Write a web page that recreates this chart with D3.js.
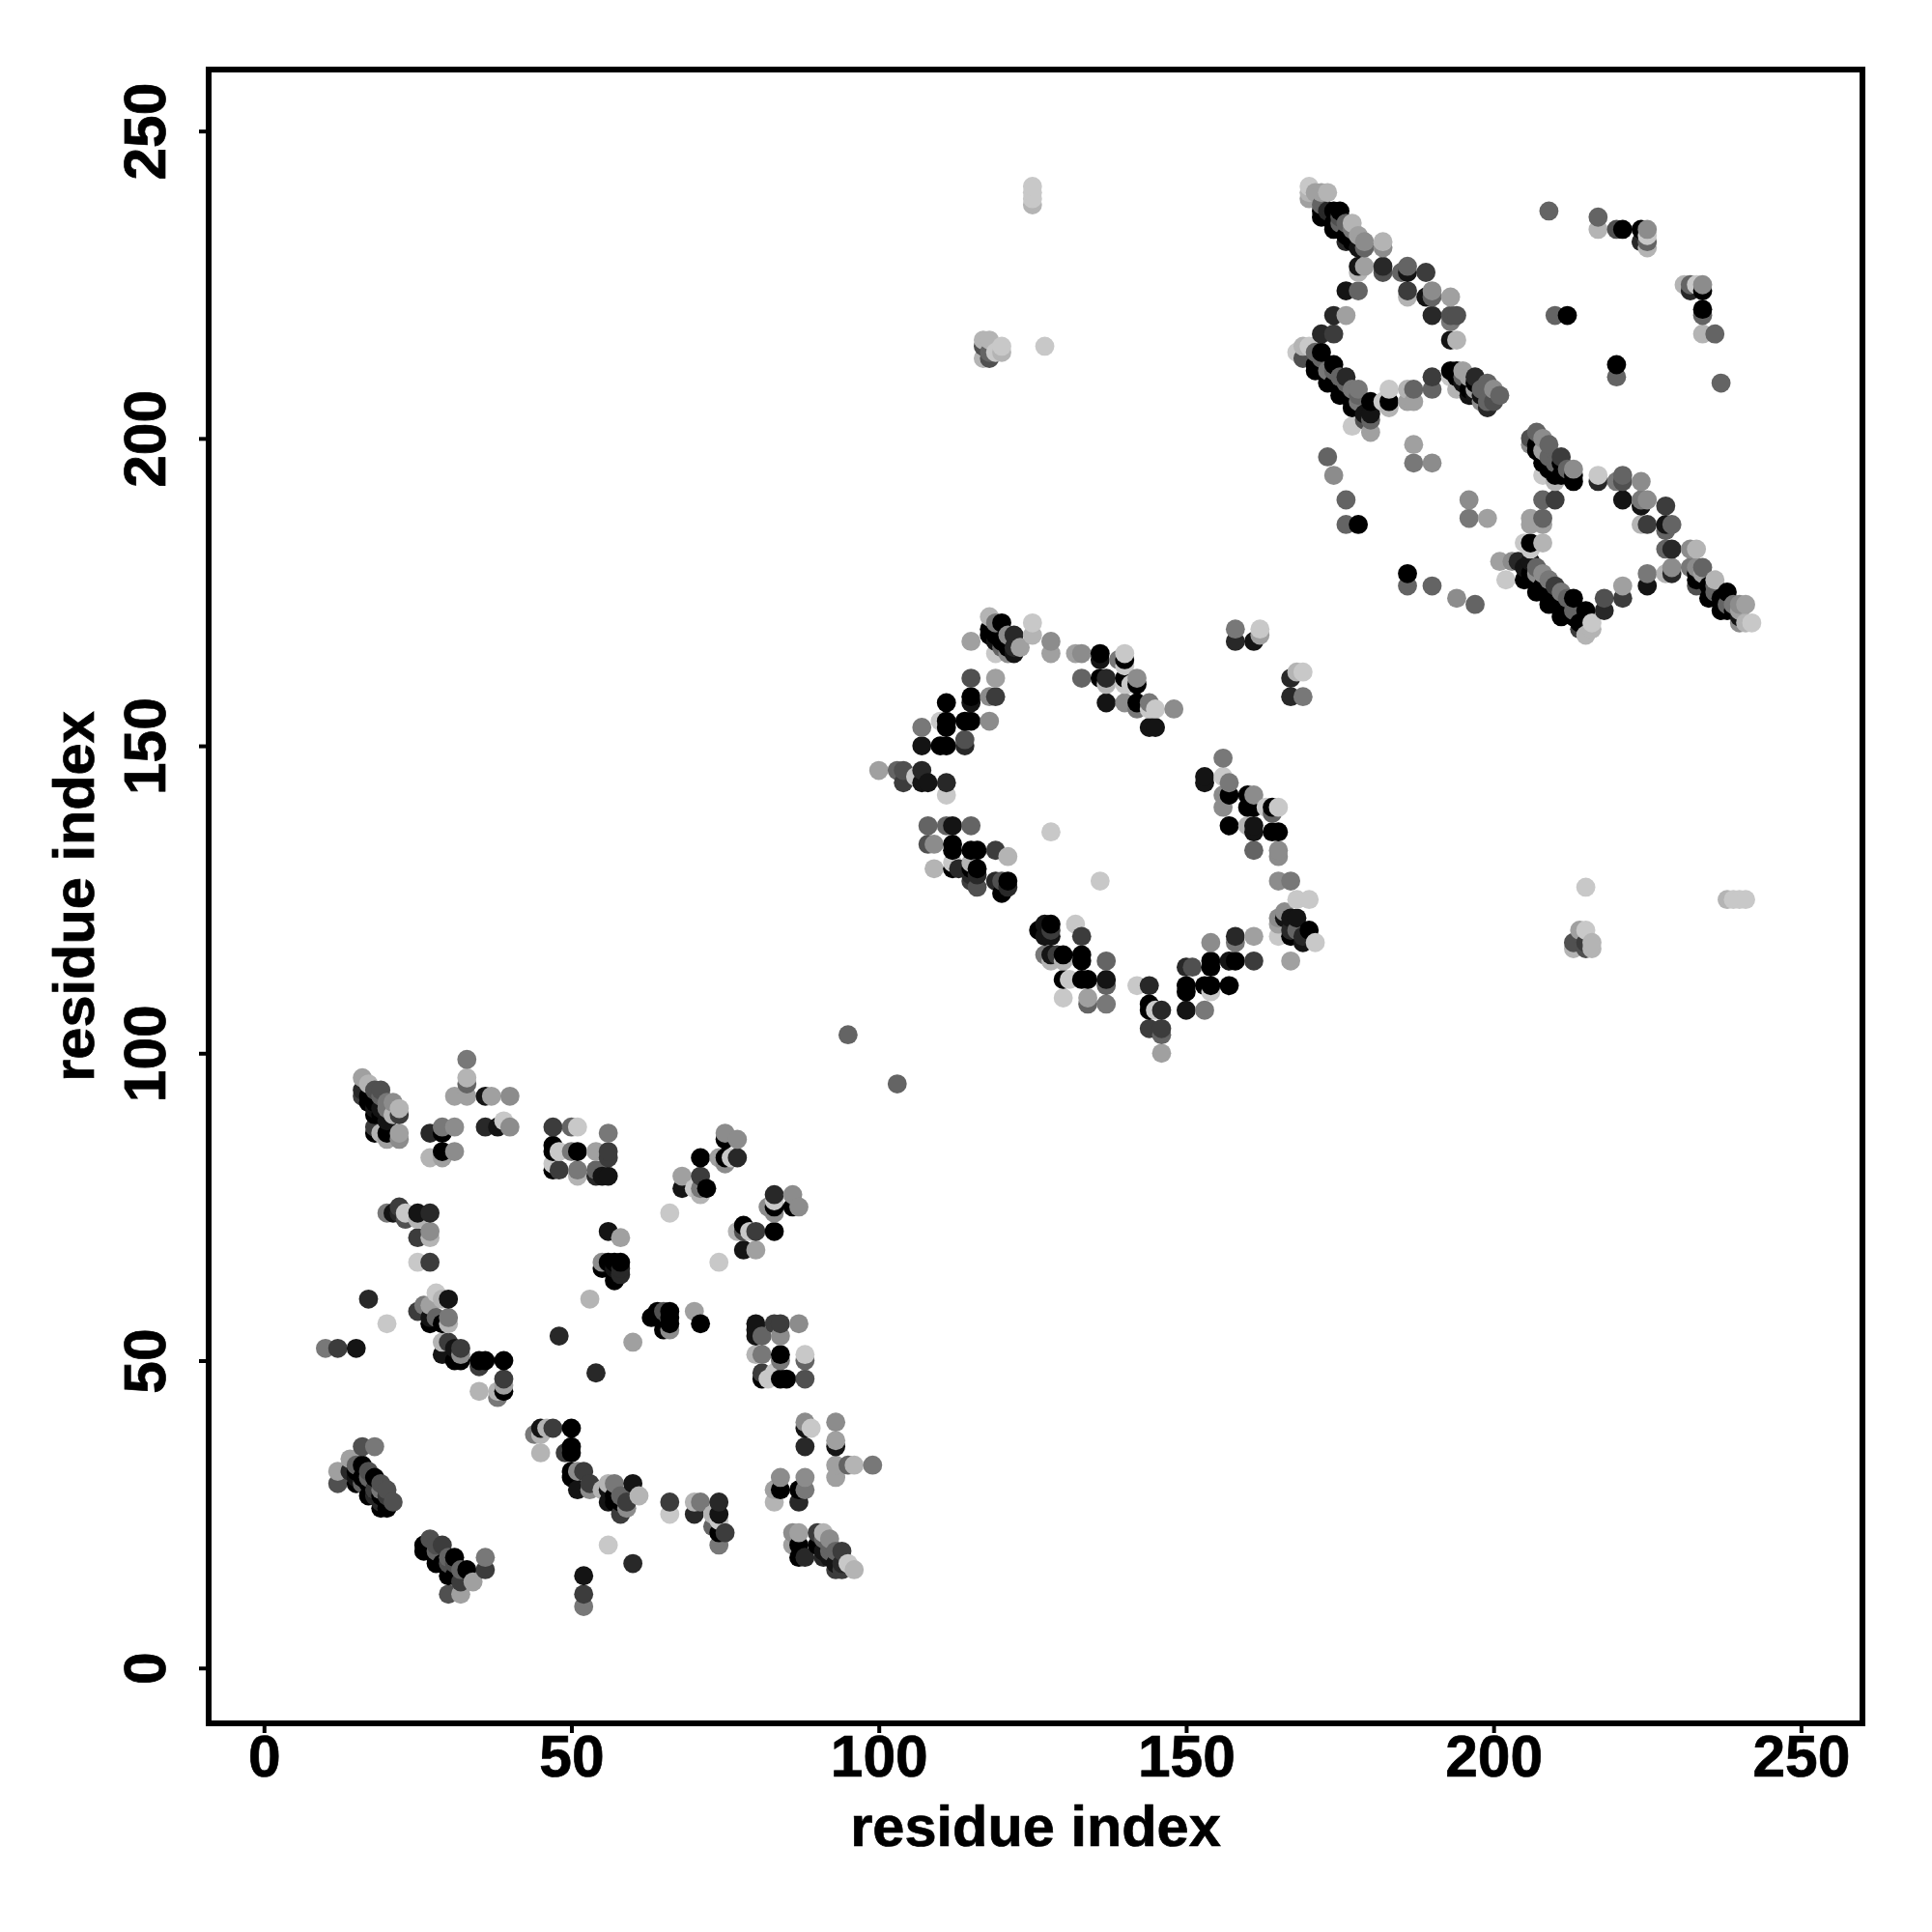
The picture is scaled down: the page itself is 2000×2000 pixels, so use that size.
<!DOCTYPE html>
<html><head><meta charset="utf-8">
<script src="https://cdn.jsdelivr.net/npm/d3@7"></script>
<style>html,body{margin:0;background:#fff}svg{display:block}text{font-family:"Liberation Sans",Arial,sans-serif;font-weight:700;fill:#000}</style>
</head><body><svg id="c" width="2000" height="2000"></svg>
<script>
// contacts: [residue i, residue j, strength 0..10]
const strands=[[171,212,10],[172,211,10],[173,210,10],[174,209,10],[175,208,10],[176,207,10],[177,206,10],[178,205,10],[179,204,9],[172,213,5],[174,211,5],[176,209,5],[178,207,5],
[172,237,10],[173,236,10],[174,235,10],[175,234,10],[176,233,10],[177,232,10],[178,231,9],[175,236,6],[176,235,5],[177,234,4],
[195,209,9],[196,207,9],[197,207,9],[198,207,9],[199,205,8],[195,210,5],[198,208,5],
[207,198,10],[208,197,10],[209,196,10],[210,195,10],[211,194,10],[212,194,10],[209,197,5],[210,196,5],[212,195,5],
[206,178,10],[207,177,10],[208,176,10],[209,175,10],[210,174,10],[211,173,10],[212,172,10],[213,171,10],[214,170,10],[207,179,5],[209,177,4],[211,175,4],[212,174,5],
[233,178,10],[234,177,10],[235,176,10],[236,175,10],[237,174,10],[238,173,10],[239,172,10],[240,171,9],[234,179,5],[236,176,5],[239,173,4],
[15,32,10],[16,31,10],[17,30,10],[18,29,10],[19,28,10],[20,27,10],[17,32,6],[19,30,6],[20,28,7],
[27,19,10],[28,18,10],[29,17,10],[30,16,10],[31,15,10],[28,20,6],[30,18,5],[31,17,6],
[91,19,9],[92,18,9],[93,17,9],[94,17,8],[91,21,5],[92,20,5],[93,19,5],[56,29,9],[57,27,10],[58,27,10],
[118,168,10],[119,168,10],[120,167,10],[121,166,10],[122,165,9],[17,92,10],[18,90,10],[19,90,10],[20,89,9],[19,93,5],[20,91,4]];
const blockA1=[[16,96,2],[17,95,1],[16,93,7],[16,94,8],[18,94,6],[19,94,6],[18,91,9],[19,91,9],[20,92,4],[21,92,3],[22,91,1],[22,90,7],[21,90,1],[18,88,7],[18,87,10],[19,87,1],[20,87,10],[20,86,2],[22,87,2],[22,86,3],[17,93,10],[18,92,10],
[27,87,8],[29,87,10],[29,88,4],[31,88,3],[29,84,10],[31,84,3],[27,83,1],[29,83,2],[33,99,4],[33,96,1],[33,95,5],[31,93,2],[33,93,2],[36,93,9],[37,93,2],[40,93,3],[36,88,8],[39,89,0],[38,88,9],[40,88,3]];
const blockA2=[[47,88,7],[50,88,5],[51,88,0],[56,87,4],[47,85,10],[47,84,10],[48,84,0],[50,84,4],[51,84,10],[54,84,2],[56,84,7],[56,83,7],[47,82,0],[47,81,10],[48,81,7],[51,80,1],[51,81,4],[54,81,5],[54,80,8],[55,80,9],[56,80,9],
[20,74,4],[22,75,7],[21,74,9],[23,73,6],[22,74,8],[23,74,0],[25,73,1],[25,74,9],[27,74,8],[27,71,3],[27,70,1],[25,70,7],[25,66,0],[27,66,7],
[17,60,8],[20,56,0],[10,52,4],[12,52,7],[15,52,9],[95,103,5],[103,95,5]];
const blockA3=[[28,61,0],[29,60,1],[30,60,9],[25,58,7],[26,59,4],[27,59,2],[27,57,9],[27,56,10],[28,57,5],[29,56,10],[30,56,1],[30,57,4],[29,53,1],[30,53,7],[29,51,9],[31,52,9],[31,50,10],[32,50,10],[32,51,3],[32,52,7],
[35,50,10],[36,50,10],[35,49,7],[39,50,10],[39,47,7],[39,45,10],[39,46,2],[38,44,4],[38,45,1],[35,45,1],[48,54,8],[54,48,8],[53,60,1],[60,53,2],
[56,71,9],[58,70,2],[55,66,3],[55,65,10],[56,66,10],[57,66,10],[58,66,10],[58,65,8],[57,63,10],[58,64,8],[57,65,9]];
const blockA4=[[71,83,10],[75,87,3],[77,86,3],[75,86,10],[74,83,2],[75,82,3],[75,83,10],[76,83,0],[77,83,8],[68,80,2],[68,78,9],[71,80,7],[71,78,4],[71,77,1],[70,78,0],[72,78,10],[66,74,0],[74,66,0],
[83,77,8],[83,76,0],[86,77,3],[87,75,3],[86,75,10],[82,75,3],[83,75,10],[83,74,3],[78,72,10],[83,71,10],[80,71,7],[79,71,0],[77,71,1],[78,71,6],[78,68,9],[80,68,2],
[80,56,9],[80,55,9],[80,54,9],[83,56,7],[84,56,7],[87,56,3],[81,54,5],[84,54,3],[80,51,1],[81,51,4],[84,51,10],[84,50,4],[88,50,5],[88,51,0],[81,48,7],[81,47,10],[82,47,0],[83,48,0],[84,47,10],[85,47,10],[88,47,6],
[63,57,10],[64,58,10],[65,58,6],[66,58,10],[66,57,10],[65,55,10],[66,55,3],[66,56,10],[70,58,2],[71,56,10]];
const blockA5=[[16,36,6],[18,36,4],[14,34,2],[12,32,2],[12,30,6],[15,33,5],[16,33,10],[14,32,8],[15,30,10],[15,31,9],[16,30,5],[17,31,5],[18,31,10],[17,28,10],[18,29,7],[19,29,4],[20,29,6],[19,26,10],[20,26,10],[21,27,6],[19,27,8],[18,28,8],
[27,21,6],[26,20,10],[26,19,10],[29,20,7],[28,19,5],[28,17,10],[31,18,10],[30,17,6],[30,15,10],[32,16,5],[33,16,10],[32,14,7],[36,18,4],[36,16,7],[34,14,2],[30,12,6],[32,12,2],
[44,38,4],[45,38,1],[45,39,9],[46,39,1],[47,39,7],[50,39,10],[45,35,1],[49,35,7],[50,36,10],[50,35,10],[50,32,10],[50,31,10],[51,32,3],[52,32,7],[51,29,9],[53,29,3],[53,30,7],
[56,30,1],[57,30,4],[55,29,1],[56,27,9],[58,25,7],[59,26,3],[59,27,7],[60,30,9],[61,28,1],[58,28,5],[57,28,10],[56,20,0],[60,17,8],[52,15,9],[52,12,7],[52,10,4]];
const blockA6=[[66,27,7],[66,25,0],[70,27,1],[71,27,4],[70,25,8],[74,27,8],[74,25,9],[73,25,1],[73,23,5],[74,22,10],[75,22,7],[74,20,4],[74,24,0],
[88,40,3],[89,39,0],[88,39,9],[88,36,8],[93,40,3],[93,37,2],[93,36,9],[93,33,2],[95,33,5],[96,33,1],[99,33,4],[93,31,2],
[84,31,3],[84,29,10],[83,29,2],[83,27,1],[87,29,10],[88,31,3],[88,29,4],[87,27,8],
[86,22,3],[87,22,2],[86,20,2],[87,20,10],[87,18,10],[88,18,8],[90,22,7],[91,22,1],[92,21,3],[90,20,10],[91,18,8],[94,19,7],[93,16,7],[95,17,0],[96,16,1],[92,19,5],[93,17,9],[94,16,7]];
const blockB1=[[118,171,1],[118,169,10],[119,170,4],[120,170,10],[119,167,9],[121,168,3],[122,168,8],[122,166,8],[121,165,3],[123,166,2],[119,165,0],[115,167,2],[120,166,5],[125,170,0],[125,168,1],[128,167,3],[128,165,2],[132,165,2],[133,165,3],
[136,165,10],[136,164,9],[139,164,4],[140,164,10],[140,165,0],[140,163,0],[133,161,5],[136,161,10],[137,161,8],[137,160,1],[140,161,10],[140,160,0],[142,160,10],[142,161,3],[141,160,0],[137,157,9],[140,157,3],[142,157,10],[142,156,4],[144,157,4],[144,156,0],[145,156,0],[148,156,3],[144,153,9],[145,153,9],
[158,169,4],[158,167,8],[161,167,9],[162,168,2],[162,169,0],[167,161,8],[168,162,1],[169,162,0],[167,158,8],[169,158,4]];
const blockB2=[[115,161,6],[119,161,2],[115,158,10],[115,157,9],[118,158,3],[119,158,7],[111,157,10],[110,154,0],[111,154,10],[111,153,10],[114,154,10],[115,154,10],[118,154,3],[107,153,4],[107,150,9],[110,150,10],[111,150,10],[114,150,8],[114,151,6],
[100,146,2],[103,146,5],[104,146,6],[104,144,7],[107,146,8],[107,144,9],[108,144,9],[111,144,8],[111,142,0],[106,145,0],
[108,137,5],[111,137,5],[112,137,9],[115,137,5],[108,134,6],[109,134,3],[112,134,10],[112,133,10],[115,133,10],[116,133,10],[119,133,7],[121,132,1],[109,130,1],[112,130,10],[113,130,8],[112,131,0],[115,130,10],[115,129,8],[115,128,7],[116,130,10],[116,129,8],[116,127,6],[115,131,1],
[119,128,8],[120,126,10],[120,128,6],[121,128,10],[121,127,8],[128,136,0],[136,128,0]];
const blockB3=[[156,148,4],[153,145,9],[153,144,9],[156,145,0],[157,144,4],[156,142,3],[157,142,10],[156,140,3],[160,142,10],[160,140,10],[161,142,3],[161,140,10],[163,140,0],[164,140,10],[164,139,5],[165,140,0],
[157,137,10],[160,137,1],[161,137,9],[161,136,9],[164,136,10],[165,136,10],[161,133,5],[165,133,3],[165,132,3],[165,128,3],[167,128,4],[168,125,0],[170,125,0],
[165,122,3],[166,123,3],[165,121,2],[166,122,9],[167,122,9],[168,122,9],[167,119,10],[167,120,8],[168,120,5],[165,119,0],[170,120,10],[169,118,9],[171,118,0],[169,119,8],[167,115,2],
[161,119,2],[158,119,8],[158,118,4],[154,118,3],[154,115,10],[154,114,10],[157,115,9],[158,115,10],[161,115,7],[150,114,8],[151,114,6],[150,111,10],[150,110,10],[153,111,10],[154,111,10],[154,110,0],[157,111,10],[150,107,9],[153,107,4]];
const blockB4=[[142,111,0],[144,111,8],[144,108,10],[144,107,10],[145,107,0],[146,107,8],[144,104,7],[146,104,7],[146,103,5],[146,100,2],
[126,120,10],[127,121,9],[128,121,10],[128,120,7],[128,119,9],[127,119,9],[132,121,0],[133,119,7],[127,116,4],[128,116,9],[129,116,7],[130,116,10],[128,115,1],[130,115,1],[133,116,10],[133,115,10],[137,115,5],
[130,112,10],[131,112,0],[133,112,10],[134,112,10],[137,112,9],[137,111,5],[130,109,0],[134,108,5],[134,109,2],[137,108,4],
[125,241,0],[125,240,0],[125,239,0],[125,238,1],[117,216,1],[118,216,1],[117,215,6],[117,213,1],[118,213,6],[118,214,5],[119,214,0],[120,215,0],[120,214,1],[127,215,0],
[215,127,0],[214,120,2],[215,120,0],[213,118,6],[213,117,1],[215,118,7],[215,117,6],[216,118,1],[216,117,1],[238,125,1],[239,125,0],[240,125,0],[241,125,0]];
const blockC1=[[170,241,0],[170,240,1],[170,239,2],[171,240,2],[173,240,1],[172,240,2],[172,236,10],[172,238,5],[174,234,10],[173,237,8],[175,237,10],[174,237,10],[176,232,8],[175,235,5],[177,235,1],[178,233,2],[179,232,3],[179,231,5],[182,232,1],[182,231,3],
[178,228,9],[179,228,2],[178,227,1],[182,228,8],[182,227,6],[185,227,5],[186,228,5],[186,227,9],[189,227,7],[176,224,9],[178,224,5],[186,224,7],[186,223,1],[189,223,9],[190,223,5],[190,224,3],[193,223,2],
[174,220,8],[176,220,2],[190,220,8],[193,219,4],[193,220,6],[194,220,6],[172,217,8],[174,217,7],[193,216,9],[194,216,1]];
const blockC2=[[168,214,0],[169,215,1],[170,215,0],[169,213,6],[171,214,5],[172,214,10],[171,211,10],[174,212,10],[173,209,10],[175,207,10],[177,205,10],[173,211,4],[176,210,8],[175,210,5],[177,208,4],[178,208,4],[178,206,4],[179,203,6],[180,206,10],[180,204,9],[180,203,5],[177,202,0],[180,201,2],
[183,208,0],[182,206,0],[183,206,10],[183,205,1],[186,208,1],[187,208,5],[186,206,2],[187,206,2],[190,210,7],[190,208,5],
[193,211,10],[194,211,10],[195,211,2],[193,210,0],[194,210,10],[194,208,1],[196,210,2],[197,210,8],[196,208,10],[197,208,2],[199,209,5],[200,208,3],[198,206,3],[199,206,5],[200,206,6],[201,207,5],[197,209,10]];
const blockC3=[[209,237,5],[217,236,5],[217,234,1],[220,234,6],[221,234,10],[224,234,10],[224,232,8],[225,234,3],[225,233,0],[225,232,5],[225,231,1],
[231,225,1],[232,225,5],[232,224,8],[233,225,0],[234,225,3],[234,224,10],[234,221,10],[234,220,5],[234,217,1],[236,217,5],[210,220,5],[212,220,10],[220,212,10],[220,210,5],[237,209,5],
[173,197,5],[174,194,3],[187,199,2],[187,196,4],[190,196,3],[176,190,5],[176,186,5],[178,186,10],[196,190,3],[196,187,4],[199,187,2],[186,178,10],[186,176,5],[190,176,5],[194,174,3],[197,173,5]];
const blockC4=[[207,201,5],[206,200,6],[206,199,3],[208,200,3],[209,199,5],[208,198,2],[207,199,10],[208,196,10],[209,195,10],[211,197,7],[211,196,10],[213,195,3],[213,194,10],[213,193,10],[210,194,10],[208,194,0],[210,193,1],
[217,194,0],[217,193,8],[220,193,4],[221,194,5],[221,193,6],[224,193,3],[208,190,5],[210,190,7],[221,190,9],[224,190,4],[224,189,9],[225,190,3],[228,189,7],
[206,187,2],[208,187,5],[206,186,2],[208,186,2],[224,186,1],[225,186,7],[228,186,9],[229,186,5],[228,185,5],[205,183,0],[206,183,10],[208,183,1],[206,182,0]];
const blockC5=[[201,180,2],[203,180,3],[204,180,8],[206,180,9],[205,179,9],[202,177,0],[208,178,3],[207,178,3],[205,177,10],[207,175,10],[209,173,10],[211,171,10],[210,176,7],[213,174,10],[215,172,10],[214,169,7],[213,172,5],[216,170,0],[215,168,1],[216,169,1],
[218,174,6],[218,172,8],[221,176,2],[221,174,7],[225,178,4],[225,176,9],[228,178,1],[229,179,3],[229,178,8],[228,182,5],[229,182,8],[232,182,3],[233,182,1],
[232,179,4],[233,179,3],[234,178,2],[233,177,10],[236,177,1],[233,176,6],[235,174,10],[238,175,10],[237,172,10],[238,173,5],[240,173,3],[241,173,2],[240,172,2],[240,170,3],[241,170,1],[242,170,0],[238,172,10],[236,175,5]];
const tickValues=[0,50,100,150,200,250];
const axisTitle="residue index";

const contacts=[...strands,...blockA1,...blockA2,...blockA3,...blockA4,...blockA5,...blockA6,...blockB1,...blockB2,...blockB3,...blockB4,...blockC1,...blockC2,...blockC3,...blockC4,...blockC5];
contacts.sort((a,b)=>d3.ascending(a[0],b[0])||d3.ascending(a[1],b[1]));

const L=216,R=1928,T=72,B=1784;
const x=d3.scaleLinear().domain([-9,260]).range([L,R]);
const y=d3.scaleLinear().domain([-9,260]).range([B,T]);
const grey=d3.scaleLinear().domain([0,10]).range([200,0]);
const svg=d3.select("#c");
svg.append("rect").attr("width",2000).attr("height",2000).attr("fill","#fff");

svg.append("g").selectAll("circle").data(contacts).join("circle")
  .attr("cx",d=>x(d[0])).attr("cy",d=>y(d[1])).attr("r",9.9)
  .attr("fill",d=>{const g=Math.round(grey(d[2]));return `rgb(${g},${g},${g})`;});

svg.append("rect").attr("x",L).attr("y",T).attr("width",R-L).attr("height",B-T)
  .attr("fill","none").attr("stroke","#000").attr("stroke-width",6);

const ax=svg.append("g").attr("transform",`translate(0,${B})`)
  .call(d3.axisBottom(x).tickValues(tickValues).tickSize(10).tickPadding(6));
const ay=svg.append("g").attr("transform",`translate(${L},0)`)
  .call(d3.axisLeft(y).tickValues(tickValues).tickSize(10));
[ax,ay].forEach(g=>{g.select(".domain").remove();g.selectAll(".tick line").attr("stroke","#000").attr("stroke-width",4);});
ax.selectAll("text").attr("font-size",60.5).attr("dy",null).attr("y",55);
ay.selectAll("text").attr("font-size",60.5).attr("x",null).attr("dy",null)
  .attr("text-anchor","middle")
  .attr("transform",`translate(-45,0) rotate(-90)`);
svg.selectAll(".tick text").style("font-family",'"Liberation Sans",Arial,sans-serif').style("font-weight",700).attr("fill","#000").attr("stroke","#000").attr("stroke-width",0.7);

svg.append("text").attr("x",(L+R)/2).attr("y",1911).attr("text-anchor","middle").attr("font-size",59.5).attr("stroke","#000").attr("stroke-width",0.7).text(axisTitle);
svg.append("text").attr("transform",`translate(97,${(T+B)/2}) rotate(-90)`).attr("text-anchor","middle").attr("font-size",59.5).attr("stroke","#000").attr("stroke-width",0.7).text(axisTitle);
</script></body></html>
